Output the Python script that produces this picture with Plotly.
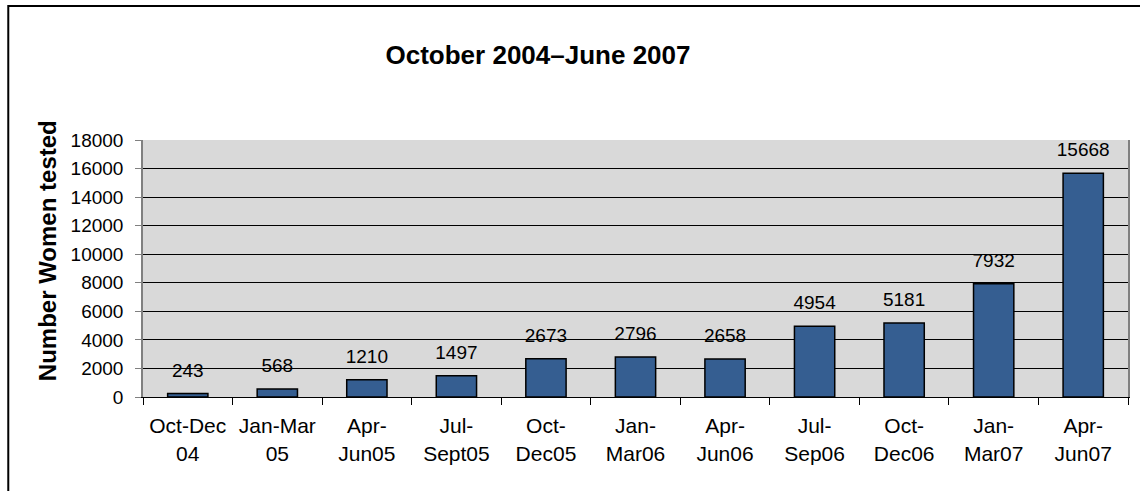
import plotly.graph_objects as go

categories = ["Oct-Dec<br>04", "Jan-Mar<br>05", "Apr-<br>Jun05", "Jul-<br>Sept05",
              "Oct-<br>Dec05", "Jan-<br>Mar06", "Apr-<br>Jun06", "Jul-<br>Sep06",
              "Oct-<br>Dec06", "Jan-<br>Mar07", "Apr-<br>Jun07"]
women_tested = [243, 568, 1210, 1497, 2673, 2796, 2658, 4954, 5181, 7932, 15668]
y_ticks = [0, 2000, 4000, 6000, 8000, 10000, 12000, 14000, 16000, 18000]

FONT = "Liberation Sans, Arial, sans-serif"

fig = go.Figure()
fig.add_trace(go.Bar(
    x=categories, y=women_tested,
    marker=dict(color="#355E91", line=dict(color="black", width=1.5)),
    hoverinfo="skip",
))
fig.add_trace(go.Scatter(
    x=categories, y=women_tested,
    mode="markers+text",
    text=[str(v) for v in women_tested],
    textposition="top center",
    textfont=dict(family=FONT, size=19, color="black"),
    marker=dict(size=18, opacity=0),
    hoverinfo="skip",
    cliponaxis=False,
))

fig.update_layout(
    width=1140, height=491,
    margin=dict(l=143, r=10, t=140, b=94),
    paper_bgcolor="white",
    plot_bgcolor="#D9D9D9",
    showlegend=False,
    bargap=0.55,
    font=dict(family=FONT, color="black"),
    title=dict(text="<b>October 2004\u2013June 2007</b>",
               font=dict(family=FONT, size=26, color="black"),
               x=538/1140, xanchor="center", xref="container",
               y=1 - 55/491, yanchor="middle", yref="container"),
    shapes=[dict(type="rect", xref="paper", yref="paper",
                 x0=(8 - 143)/987, x1=1.2, y0=-0.6, y1=(397 - 6)/257,
                 line=dict(color="black", width=2), fillcolor="rgba(0,0,0,0)",
                 layer="above")],
    annotations=[dict(text="<b>Number Women tested</b>", textangle=-90,
                      xref="paper", yref="paper",
                      x=(47 - 143)/987, y=(397 - 251)/257,
                      xanchor="center", yanchor="middle", showarrow=False,
                      font=dict(family=FONT, size=24, color="black"))],
)
fig.update_xaxes(
    type="category",
    tickson="boundaries",
    ticks="outside", ticklen=7, tickcolor="black",
    ticklabelstandoff=10,
    tickfont=dict(family=FONT, size=21, color="black"),
    showline=True, linecolor="black", linewidth=1,
    mirror=False, showgrid=False,
    range=[-0.5, len(categories) - 0.5],
)
fig.update_yaxes(
    range=[0, 18000], tickvals=y_ticks, ticktext=[str(v) for v in y_ticks],
    ticks="outside", ticklen=6, tickcolor="#808080",
    ticklabelstandoff=8,
    tickfont=dict(family=FONT, size=19, color="black"),
    showgrid=True, gridcolor="black", gridwidth=1,
    showline=True, linecolor="#808080", linewidth=1.5, mirror=True,
    zeroline=False,
)

fig.write_html("out.html", config={"displayModeBar": False},
               post_script="document.body.style.margin='0';")
